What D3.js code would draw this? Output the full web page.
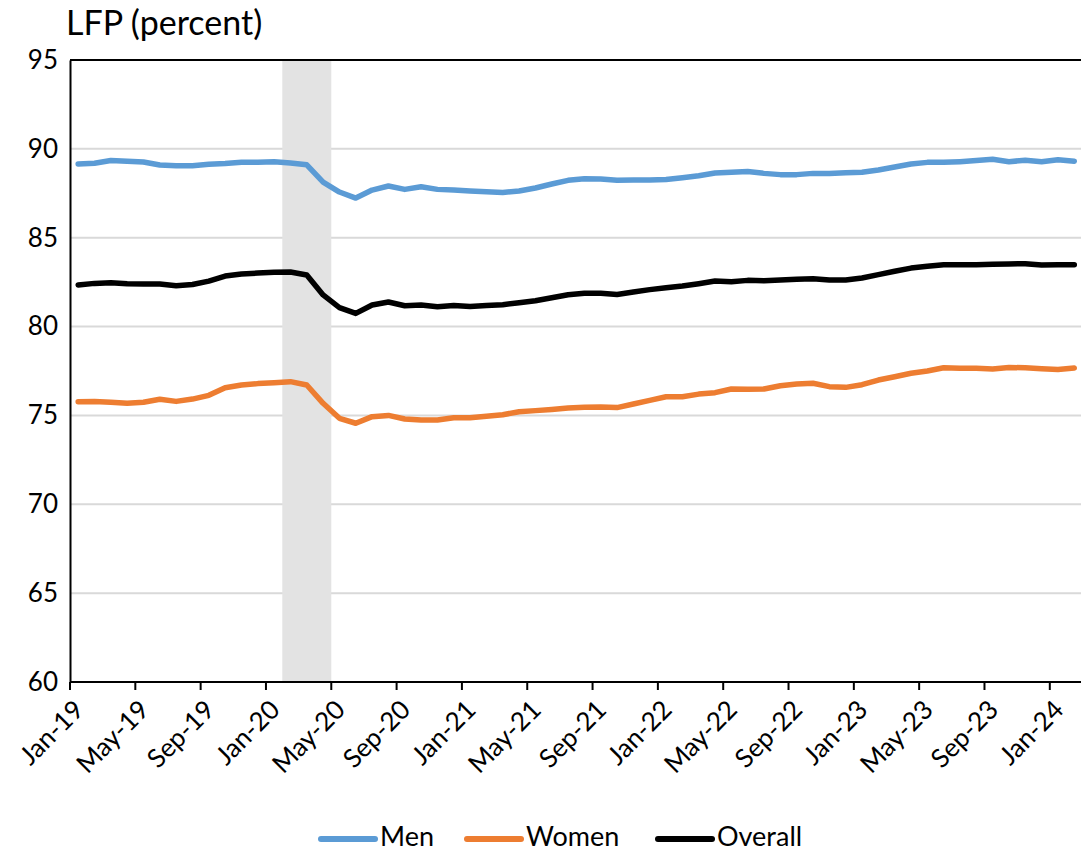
<!DOCTYPE html>
<html>
<head>
<meta charset="utf-8">
<script src="https://cdn.jsdelivr.net/npm/d3@7"></script>
<style>
  html, body { margin: 0; padding: 0; background: #fff; }
  svg { display: block; font-family: Lato, "Open Sans", sans-serif; }
</style>
</head>
<body>
<svg id="chart" width="1081" height="853"></svg>
<script>
// Monthly labour-force participation, Jan-19 to Feb-24
const months = [
  "Jan-19","Feb-19","Mar-19","Apr-19","May-19","Jun-19","Jul-19","Aug-19","Sep-19","Oct-19","Nov-19","Dec-19",
  "Jan-20","Feb-20","Mar-20","Apr-20","May-20","Jun-20","Jul-20","Aug-20","Sep-20","Oct-20","Nov-20","Dec-20",
  "Jan-21","Feb-21","Mar-21","Apr-21","May-21","Jun-21","Jul-21","Aug-21","Sep-21","Oct-21","Nov-21","Dec-21",
  "Jan-22","Feb-22","Mar-22","Apr-22","May-22","Jun-22","Jul-22","Aug-22","Sep-22","Oct-22","Nov-22","Dec-22",
  "Jan-23","Feb-23","Mar-23","Apr-23","May-23","Jun-23","Jul-23","Aug-23","Sep-23","Oct-23","Nov-23","Dec-23",
  "Jan-24","Feb-24"
];

const men = [
  89.15,89.19,89.34,89.30,89.26,89.09,89.05,89.05,89.13,89.17,89.24,89.24,
  89.28,89.20,89.10,88.13,87.57,87.23,87.68,87.91,87.72,87.87,87.72,87.68,
  87.63,87.59,87.55,87.63,87.80,88.02,88.23,88.32,88.30,88.23,88.25,88.25,
  88.28,88.38,88.49,88.64,88.68,88.72,88.62,88.55,88.55,88.62,88.62,88.66,
  88.68,88.81,88.98,89.15,89.24,89.24,89.28,89.34,89.41,89.28,89.36,89.28,
  89.39,89.30
];

const women = [
  75.77,75.79,75.74,75.68,75.74,75.91,75.79,75.92,76.13,76.56,76.71,76.79,
  76.84,76.90,76.71,75.68,74.84,74.56,74.93,75.00,74.80,74.74,74.74,74.87,
  74.87,74.95,75.04,75.21,75.27,75.34,75.42,75.46,75.47,75.44,75.64,75.85,
  76.05,76.05,76.20,76.28,76.49,76.47,76.49,76.67,76.77,76.81,76.62,76.58,
  76.73,76.99,77.18,77.37,77.50,77.68,77.65,77.65,77.61,77.70,77.68,77.63,
  77.59,77.67
];

const overall = [
  82.34,82.43,82.47,82.41,82.39,82.39,82.30,82.37,82.56,82.84,82.96,83.01,
  83.05,83.07,82.90,81.78,81.07,80.74,81.21,81.38,81.17,81.21,81.12,81.19,
  81.13,81.19,81.23,81.34,81.45,81.62,81.79,81.87,81.87,81.81,81.94,82.08,
  82.19,82.28,82.41,82.56,82.52,82.60,82.58,82.62,82.66,82.69,82.62,82.62,
  82.73,82.92,83.11,83.29,83.39,83.48,83.48,83.48,83.50,83.52,83.54,83.46,
  83.48,83.48
];

// Shaded recession months
const recession = ["Feb-20","Mar-20","Apr-20"];

const yTicks = [60, 65, 70, 75, 80, 85, 90, 95];
const xTickLabels = months.filter((m, i) => i % 4 === 0);

const seriesNames = ["Men", "Women", "Overall"];
const seriesColors = ["#5B9BD5", "#ED7D31", "#000000"];
const seriesData = [men, women, overall];

const svg = d3.select("#chart");

const plotLeft = 70, plotTop = 60, plotBottom = 682;
const step = 16.33;
const plotRight = plotLeft + months.length * step;

const x = d3.scaleBand().domain(months).range([plotLeft, plotRight]).paddingInner(0).paddingOuter(0);
const y = d3.scaleLinear().domain([60, 95]).range([plotBottom, plotTop]);
const cx = m => x(m) + x.bandwidth() / 2;

// horizontal gridlines
svg.append("g")
  .selectAll("line")
  .data(yTicks.filter(v => v !== 60 && v !== 95))
  .join("line")
  .attr("x1", plotLeft).attr("x2", plotRight)
  .attr("y1", d => y(d)).attr("y2", d => y(d))
  .attr("stroke", "#d9d9d9")
  .attr("stroke-width", 2);

// recession shading
svg.append("rect")
  .attr("x", x(recession[0]))
  .attr("width", x(recession[recession.length - 1]) + x.bandwidth() - x(recession[0]))
  .attr("y", y(95))
  .attr("height", y(60) - y(95))
  .attr("fill", "#e3e3e3");

// plot frame (top edge)
svg.append("line")
  .attr("x1", plotLeft).attr("x2", plotRight)
  .attr("y1", y(95)).attr("y2", y(95))
  .attr("stroke", "#000").attr("stroke-width", 2);

// y axis
const yAxis = d3.axisLeft(y).tickValues(yTicks).tickSize(0).tickPadding(12).tickFormat(d3.format("d"));
const gy = svg.append("g").attr("transform", `translate(${plotLeft},0)`).call(yAxis);
gy.select(".domain").attr("stroke", "#000").attr("stroke-width", 2);
gy.selectAll("text").attr("font-size", 26).attr("fill", "#000").attr("font-family", "Lato, 'Open Sans', sans-serif");

// x axis: ticks at category boundaries every four months
const gx = svg.append("g").attr("transform", `translate(0,${plotBottom})`);
gx.append("line")
  .attr("x1", plotLeft).attr("x2", plotRight)
  .attr("stroke", "#000").attr("stroke-width", 2);
gx.selectAll("line.tick")
  .data(xTickLabels)
  .join("line")
  .attr("class", "tick")
  .attr("x1", d => x(d)).attr("x2", d => x(d))
  .attr("y1", 0).attr("y2", 8)
  .attr("stroke", "#000").attr("stroke-width", 2);
gx.selectAll("text")
  .data(xTickLabels)
  .join("text")
  .attr("transform", d => `translate(${x(d) + 9},${23}) rotate(-45)`)
  .attr("text-anchor", "end")
  .attr("dy", "0.35em")
  .attr("font-size", 26)
  .attr("fill", "#000")
  .text(d => d);

// series lines
const line = d3.line()
  .x((d, i) => cx(months[i]))
  .y(d => y(d));

svg.append("g")
  .selectAll("path")
  .data(seriesData)
  .join("path")
  .attr("d", d => line(d))
  .attr("fill", "none")
  .attr("stroke", (d, i) => seriesColors[i])
  .attr("stroke-width", 5.5)
  .attr("stroke-linejoin", "round")
  .attr("stroke-linecap", "round");

// axis title
svg.append("text")
  .attr("x", 66).attr("y", 35)
  .attr("font-size", 34)
  .attr("fill", "#000")
  .text("LFP (percent)");

// legend
const legendItems = [
  { name: seriesNames[0], color: seriesColors[0], x: 321 },
  { name: seriesNames[1], color: seriesColors[1], x: 467 },
  { name: seriesNames[2], color: seriesColors[2], x: 658 }
];
const lg = svg.append("g");
legendItems.forEach(it => {
  lg.append("line")
    .attr("x1", it.x).attr("x2", it.x + 54)
    .attr("y1", 839).attr("y2", 839)
    .attr("stroke", it.color).attr("stroke-width", 6)
    .attr("stroke-linecap", "round");
  lg.append("text")
    .attr("x", it.x + 59).attr("y", 846)
    .attr("font-size", 27)
    .attr("fill", "#000")
    .text(it.name);
});
</script>
</body>
</html>
